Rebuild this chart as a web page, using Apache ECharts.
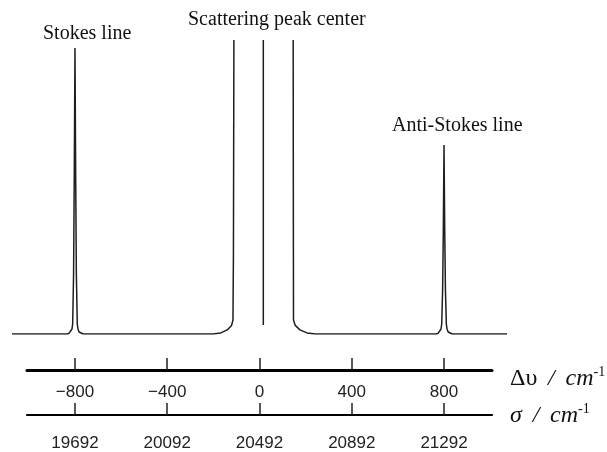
<!DOCTYPE html>
<html>
<head>
<meta charset="utf-8">
<script src="https://cdn.jsdelivr.net/npm/echarts@6/dist/echarts.min.js"></script>
<style>
  html, body { margin: 0; padding: 0; background: #fff; }
  #chart { width: 607px; height: 452px; }
</style>
</head>
<body>
<div id="chart"></div>
<script>
// Raman shift (cm^-1) / relative height
var spectrumStart = [[-1073, 0], [-836, 0]]
var stokesLine = [[-826, 0.6], [-818, 2], [-813, 5], [-810, 10], [-806, 60], [-803, 160], [-800, 286],
  [-797, 160], [-794, 60], [-790, 10], [-787, 5], [-782, 2], [-774, 0.6], [-764, 0]]
var leftWing = [[-202, 0], [-168, 1.1], [-140, 4.1], [-121, 8.6], [-115, 14], [-113, 80], [-111, 294]]
var rightWing = [[146, 294], [147, 80], [147.4, 14], [155, 8.6], [175, 4.1], [206, 1.1], [243, 0]]
var antiStokesLine = [[764, 0], [774, 0.6], [782, 2], [787, 5], [790, 10], [794, 45], [797, 105], [800, 189],
  [803, 105], [806, 45], [810, 10], [813, 5], [818, 2], [826, 0.6], [836, 0]]
var spectrumEnd = [[1073, 0]]
var centerLine = [[16.5, 9], [16.5, 294]]

var shiftTicks = [-800, -400, 0, 400, 800]
var sigmaTicks = [19692, 20092, 20492, 20892, 21292]
var sigmaZero = 20492

var leftBranch = spectrumStart.concat(stokesLine, leftWing)
var rightBranch = rightWing.concat(antiStokesLine, spectrumEnd)

var myChart = echarts.init(document.getElementById('chart'))

var lineStyle = { color: '#1e1e1e', width: 1.5 }
var serif = '"Liberation Serif", "Times New Roman", serif'
var tickFont = { color: '#222', fontSize: 17, fontFamily: '"Liberation Sans", Arial, sans-serif' }

var option = {
  animation: false,
  backgroundColor: '#fff',
  grid: [
    { left: 12, right: 100, top: 34, height: 300 },
    { left: 27, right: 115, top: 360, height: 10 },
    { left: 27, right: 115, top: 408, height: 10 }
  ],
  xAxis: [
    { gridIndex: 0, type: 'value', min: -1073, max: 1073, show: false },
    {
      gridIndex: 1,
      type: 'value',
      min: -1008,
      max: 1008,
      position: 'bottom',
      splitLine: { show: false },
      axisLine: { show: true, onZero: false, lineStyle: { color: '#000', width: 3 } },
      axisTick: { show: true, inside: true, length: 12, customValues: shiftTicks, lineStyle: { color: '#222', width: 1.5 } },
      axisLabel: Object.assign({ margin: 14, customValues: shiftTicks, formatter: function (v) { return v < 0 ? '\u2212' + (-v) : String(v) } }, tickFont)
    },
    {
      gridIndex: 2,
      type: 'value',
      min: sigmaZero - 1008,
      max: sigmaZero + 1008,
      position: 'bottom',
      splitLine: { show: false },
      axisLine: { show: true, onZero: false, lineStyle: { color: '#000', width: 2.2 } },
      axisTick: { show: true, inside: true, length: 12, customValues: sigmaTicks, lineStyle: { color: '#222', width: 1.5 } },
      axisLabel: Object.assign({ margin: 20, customValues: sigmaTicks, formatter: function (v) { return String(v) } }, tickFont)
    }
  ],
  yAxis: [
    { gridIndex: 0, type: 'value', min: 0, max: 300, show: false },
    { gridIndex: 1, type: 'value', min: 0, max: 1, show: false },
    { gridIndex: 2, type: 'value', min: 0, max: 1, show: false }
  ],
  series: [
    { type: 'line', xAxisIndex: 0, yAxisIndex: 0, data: leftBranch, symbol: 'none', lineStyle: lineStyle },
    { type: 'line', xAxisIndex: 0, yAxisIndex: 0, data: rightBranch, symbol: 'none', lineStyle: lineStyle },
    { type: 'line', xAxisIndex: 0, yAxisIndex: 0, data: centerLine, symbol: 'none', lineStyle: lineStyle },
    { type: 'line', xAxisIndex: 1, yAxisIndex: 1, data: [] },
    { type: 'line', xAxisIndex: 2, yAxisIndex: 2, data: [] }
  ],
  graphic: [
    { type: 'text', left: 43, top: 24, style: { text: 'Stokes line', fontSize: 20, fontFamily: serif, fill: '#111' } },
    { type: 'text', left: 188, top: 10, style: { text: 'Scattering peak center', fontSize: 20, fontFamily: serif, fill: '#111' } },
    { type: 'text', left: 392, top: 116, style: { text: 'Anti-Stokes line', fontSize: 20, fontFamily: serif, fill: '#111' } },
    {
      type: 'text', left: 510, top: 365,
      style: {
        text: '{a|\u0394\u03c5}{b| \u2009/ \u2009cm}{s|-1}',
        fill: '#111',
        rich: {
          a: { fontSize: 24, fontFamily: serif, fill: '#111', verticalAlign: 'bottom', lineHeight: 26 },
          b: { fontSize: 24, fontFamily: serif, fontStyle: 'italic', fill: '#111', verticalAlign: 'bottom', lineHeight: 26 },
          s: { fontSize: 14, fontFamily: serif, fill: '#111', verticalAlign: 'top', lineHeight: 26 }
        }
      }
    },
    {
      type: 'text', left: 510, top: 402,
      style: {
        text: '{b|\u03c3 \u2009/ \u2009cm}{s|-1}',
        fill: '#111',
        rich: {
          b: { fontSize: 24, fontFamily: serif, fontStyle: 'italic', fill: '#111', verticalAlign: 'bottom', lineHeight: 26 },
          s: { fontSize: 14, fontFamily: serif, fill: '#111', verticalAlign: 'top', lineHeight: 26 }
        }
      }
    }
  ]
}
myChart.setOption(option)
</script>
</body>
</html>
